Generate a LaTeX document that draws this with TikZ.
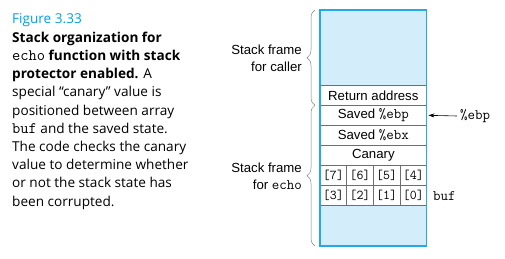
\documentclass[tikz,border=0pt]{standalone}
\usepackage{fontspec}
\setmainfont{Open Sans}
\setsansfont{Liberation Sans}
\usetikzlibrary{decorations.pathreplacing,arrows.meta}
\definecolor{figcyan}{RGB}{0,160,228}
\definecolor{stackfill}{RGB}{212,237,250}
\definecolor{stackedge}{RGB}{35,170,230}
\definecolor{cellline}{RGB}{110,110,110}
\newcommand{\capmono}[1]{{\ttfamily\fontsize{16}{16}\selectfont #1}}
\newcommand{\stkmono}[1]{{\ttfamily\fontsize{14.5}{15}\selectfont #1}}
\begin{document}
\begin{tikzpicture}[x=1pt,y=-1pt,
  capline/.style={anchor=base west,inner sep=0pt,font=\fontsize{13.6}{16}\selectfont},
  slot/.style={draw=cellline,line width=0.6pt,fill=white,minimum width=106.67pt,minimum height=20pt,inner sep=0pt,font=\sffamily\fontsize{13.2}{15}\selectfont},
  cell/.style={draw=cellline,line width=0.6pt,fill=white,minimum width=26.67pt,minimum height=20pt,inner sep=0pt,font=\ttfamily\fontsize{13.5}{15}\selectfont},
  framelabel/.style={anchor=east,align=right,inner sep=0pt,font=\sffamily\fontsize{13.2}{16.7}\selectfont},
  bracestyle/.style={draw=gray,line width=0.5pt,decorate,decoration={brace,amplitude=8pt}},
  ttlabel/.style={anchor=west,inner sep=0pt,font=\ttfamily\fontsize{14.5}{15}\selectfont}]
\useasboundingbox (0,0) rectangle (505,259);
% caption
\node[capline,text=figcyan] (c1) at (12,24) {Figure 3.33};
\node[capline] (c2) at (12,42.2) {\bfseries Stack organization for};
\node[capline] (c3) at (12,60.4) {\capmono{echo} \bfseries function with stack};
\node[capline] (c4) at (12,78.6) {\textbf{protector enabled.} A};
\node[capline] (c5) at (12,96.8) {special “canary” value is};
\node[capline] (c6) at (12,115) {positioned between array};
\node[capline] (c7) at (12,133.2) {\capmono{buf} and the saved state.};
\node[capline] (c8) at (12,151.4) {The code checks the canary};
\node[capline] (c9) at (12,169.6) {value to determine whether};
\node[capline] (c10) at (12,187.8) {or not the stack state has};
\node[capline] (c11) at (12,206) {been corrupted.};
% stack
\fill[stackfill] (320,10) rectangle (426.67,246);
\node[slot] (ret) at (373.33,95.33) {Return address};
\node[slot] (ebp) at (373.33,115.33) {Saved \stkmono{\%ebp}};
\node[slot] (ebx) at (373.33,135.33) {Saved \stkmono{\%ebx}};
\node[slot] (can) at (373.33,155.33) {Canary};
\node[cell] (b7) at (333.33,175.33) {[7]};
\node[cell] (b6) at (360,175.33) {[6]};
\node[cell] (b5) at (386.67,175.33) {[5]};
\node[cell] (b4) at (413.33,175.33) {[4]};
\node[cell] (b3) at (333.33,195.33) {[3]};
\node[cell] (b2) at (360,195.33) {[2]};
\node[cell] (b1) at (386.67,195.33) {[1]};
\node[cell] (b0) at (413.33,195.33) {[0]};
\draw[stackedge,line width=1.3pt] (320,10) rectangle (426.67,246);
% braces
\coordinate (cbot) at (315,105.33);
\coordinate (ctop) at (315,10);
\coordinate (ebot) at (315,246);
\draw[bracestyle] (cbot) -- (ctop);
\draw[bracestyle] (ebot) -- (cbot);
\node[framelabel] (lcaller) at (302,58) {Stack frame\\for caller};
\node[framelabel] (lecho) at (302,176) {Stack frame\\for \stkmono{echo}};
% labels
\node[ttlabel] (ebplab) at (460,116) {\%ebp};
\draw[-{Stealth[length=6pt,width=4pt]},line width=0.6pt] ([xshift=-3pt]ebplab.west) -- ([xshift=1.5pt]ebp.east);
\node[ttlabel] (buflab) at (433,196) {buf};
\end{tikzpicture}
\end{document}
